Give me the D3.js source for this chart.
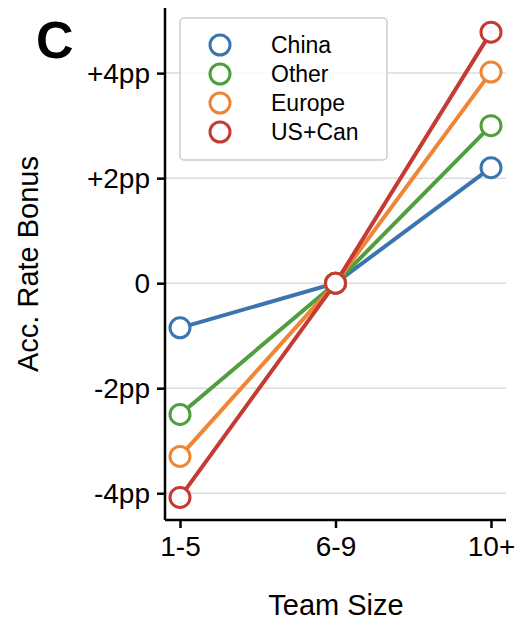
<!DOCTYPE html>
<html><head><meta charset="utf-8">
<script src="https://cdn.jsdelivr.net/npm/d3@7"></script>
<style>body{margin:0;background:#fff}</style>
</head><body><svg id="chart" width="526" height="632"></svg>
<script>
const categories = ["1-5", "6-9", "10+"];
const seriesNames = ["China", "Other", "Europe", "US+Can"];
const china = [-0.85, 0, 2.2];
const other = [-2.5, 0, 3.0];
const europe = [-3.3, 0, 4.02];
const usCan = [-4.08, 0, 4.78];
const yTicks = [-4, -2, 0, 2, 4];
const yTickLabels = ["-4pp", "-2pp", "0", "+2pp", "+4pp"];
const colors = ["#3b75af", "#519e3e", "#ef8636", "#c53a32"];

const series = [china, other, europe, usCan];
const svg = d3.select("#chart");
const font = "Liberation Sans, Arial, sans-serif";

const x = d3.scalePoint().domain(categories).range([180, 491]);
const y = d3.scaleLinear().domain([-4.51, 5.24]).range([520, 8]);

// gridlines
svg.append("g").selectAll("line").data(yTicks).join("line")
  .attr("x1", 165).attr("x2", 506)
  .attr("y1", d => y(d)).attr("y2", d => y(d))
  .attr("stroke", "#dcdcdc").attr("stroke-width", 1.5);

// axes
const yAxis = svg.append("g").attr("transform", "translate(165,0)")
  .call(d3.axisLeft(y).tickValues(yTicks).tickFormat((d, i) => yTickLabels[i]).tickSize(8).tickPadding(7));
const xAxis = svg.append("g").attr("transform", "translate(0,520)")
  .call(d3.axisBottom(x).tickSize(8).tickPadding(8));
xAxis.select(".domain").attr("d", "M165,0H506");
yAxis.select(".domain").attr("d", "M0,8V520");
[xAxis, yAxis].forEach(a => {
  a.selectAll("path,line").attr("stroke", "#000").attr("stroke-width", 2.5);
  a.selectAll("text").attr("font-family", font).attr("font-size", 28).attr("fill", "#000");
});

// lines and markers
const line = d3.line().x((d, i) => x(categories[i])).y(d => y(d));
series.forEach((s, k) => {
  svg.append("path").datum(s).attr("d", line)
    .attr("fill", "none").attr("stroke", colors[k]).attr("stroke-width", 4);
});
series.forEach((s, k) => {
  svg.append("g").selectAll("circle").data(s).join("circle")
    .attr("cx", (d, i) => x(categories[i])).attr("cy", d => y(d)).attr("r", 10)
    .attr("fill", "#fff").attr("stroke", colors[k]).attr("stroke-width", 3);
});

// legend
svg.append("rect").attr("x", 180).attr("y", 18).attr("width", 207).attr("height", 142)
  .attr("rx", 4).attr("fill", "#fff").attr("fill-opacity", 0.85).attr("stroke", "#ccc").attr("stroke-width", 1.5);
seriesNames.forEach((n, k) => {
  const cy = 45 + k * 29;
  svg.append("circle").attr("cx", 220).attr("cy", cy).attr("r", 10)
    .attr("fill", "#fff").attr("stroke", colors[k]).attr("stroke-width", 3);
  svg.append("text").attr("x", 271).attr("y", cy + 8).text(n)
    .attr("font-family", font).attr("font-size", 23);
});

// labels
svg.append("text").attr("x", 336).attr("y", 615).attr("text-anchor", "middle")
  .attr("font-family", font).attr("font-size", 29).text("Team Size");
svg.append("text").attr("transform", "translate(38,264) rotate(-90)").attr("text-anchor", "middle")
  .attr("font-family", font).attr("font-size", 29).text("Acc. Rate Bonus");
svg.append("text").attr("x", 36).attr("y", 58)
  .attr("font-family", font).attr("font-size", 52).attr("font-weight", "bold").text("C");
</script></body></html>
